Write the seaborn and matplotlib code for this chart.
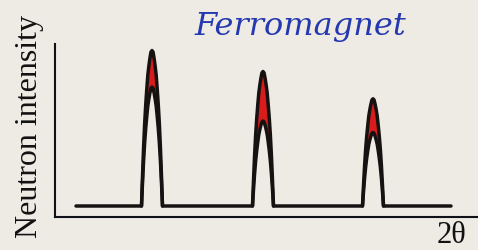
import numpy as np
import pandas as pd
import seaborn as sns
import matplotlib.pyplot as plt

# schematic neutron diffraction pattern (arbitrary units)
peak_pos = [97, 208, 318]             # 2theta position of each Bragg peak
peak_total = [166.5, 145.5, 118.2]    # nuclear + magnetic intensity (peak top)
peak_nuclear = [130.0, 96.0, 84.5]    # nuclear part only
baseline = 11.0
scan_start, scan_end = 21, 396
half_width = 10.5

# peak shape: offset from centre (in half widths) -> fraction of height
profile_offset = [-1.0, -0.9, -0.8, -0.7, -0.6, -0.5, -0.4, -0.3, -0.2, -0.1, 0.0,
                  0.1, 0.2, 0.3, 0.4, 0.5, 0.6, 0.7, 0.8, 0.9, 1.0]
profile_frac = [0.0, 0.20, 0.38, 0.53, 0.65, 0.75, 0.84, 0.90, 0.95, 0.99, 1.0,
                0.99, 0.95, 0.90, 0.84, 0.75, 0.65, 0.53, 0.38, 0.20, 0.0]

bg = '#eeebe4'
red = '#d81c1c'
ink = '#161212'


def peak_points(pos, top):
    x = [pos + o * half_width for o in profile_offset]
    y = [baseline + f * (top - baseline) for f in profile_frac]
    return x, y


sns.set_theme(style='white')
plt.rcParams['font.family'] = ['Liberation Serif', 'DejaVu Serif']

fig = plt.figure(figsize=(4.78, 2.51), dpi=100, facecolor=bg)
ax = fig.add_axes([55 / 478, 33 / 251, 423 / 478, 173 / 251])
ax.set_facecolor(bg)

# full scan: baseline with the total (nuclear + magnetic) peaks
rows = [(scan_start, baseline, 'total')]
for pos, top in zip(peak_pos, peak_total):
    xs, ys = peak_points(pos, top)
    rows += [(x, y, 'total') for x, y in zip(xs, ys)]
rows.append((scan_end, baseline, 'total'))

# nuclear-only peaks inside them, and the magnetic part in red
for i, (pos, top, nuc) in enumerate(zip(peak_pos, peak_total, peak_nuclear)):
    ox, oy = peak_points(pos, top)
    nx, ny = peak_points(pos, nuc)
    rows += [(x, y, f'nuclear{i}') for x, y in zip(nx, ny)]
    ax.fill(ox + nx[::-1], oy + ny[::-1], color=red, lw=0, zorder=1)

scan = pd.DataFrame(rows, columns=['two_theta', 'intensity', 'trace'])
sns.lineplot(data=scan, x='two_theta', y='intensity', units='trace', estimator=None,
             sort=False, color=ink, lw=2.5, ax=ax, zorder=2)

ax.set_xlim(0, 423)
ax.set_ylim(0, 173)
ax.set_xticks([])
ax.set_yticks([])
ax.set_xlabel('')
ax.set_ylabel('')
sns.despine(ax=ax)
for side in ['left', 'bottom']:
    ax.spines[side].set_color('#101018')
    ax.spines[side].set_linewidth(1.5)

fig.text(300 / 478, 1 - 35 / 251, 'Ferromagnet', family=['DejaVu Serif'], style='italic',
         size=23, color='#2438b0', ha='center', va='baseline')
fig.text(30 / 478, 1 - 126 / 251, 'Neutron intensity', rotation=90, size=23,
         color='#111111', ha='center', va='center')
fig.text(452 / 478, 1 - 250 / 251, '2θ', size=22, color='#111111',
         ha='center', va='bottom')

fig.savefig('out.png', dpi=100, facecolor=bg)
